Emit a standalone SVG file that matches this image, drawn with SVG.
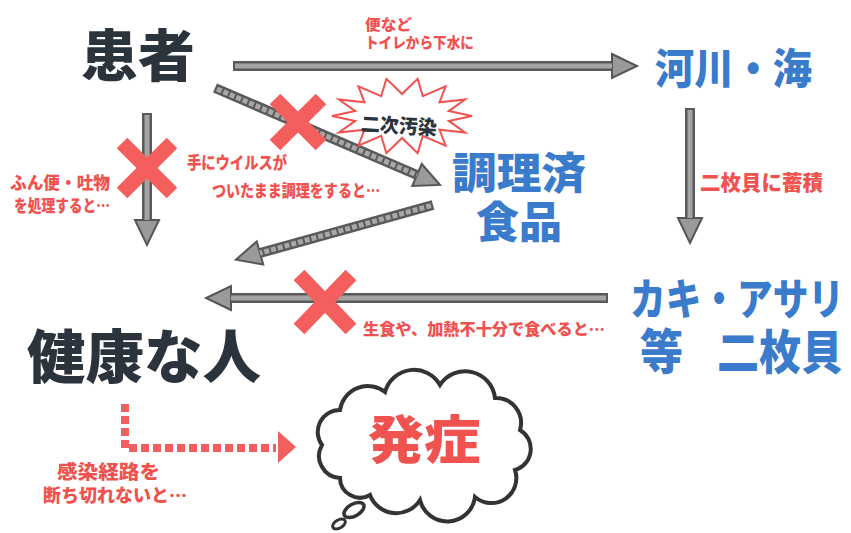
<svg xmlns="http://www.w3.org/2000/svg" width="851" height="533" viewBox="0 0 851 533">
<defs>
<style>
.big{font-family:"Noto Sans CJK JP","Noto Sans CJK SC",sans-serif;font-weight:900}
.dark{fill:#2b333d}
.blue{fill:#3a7bcb}
.red{fill:#f0524f;font-family:"Noto Sans CJK JP","Noto Sans CJK SC",sans-serif;font-weight:900}
.shaft{fill:none;stroke:#5a5a5a;stroke-width:10}
.core{fill:none;stroke:#a4a4a4;stroke-width:5}
.coreD{fill:none;stroke:#a8a8a8;stroke-width:5;stroke-dasharray:5 2}
.cross{stroke:#f45f5e;stroke-width:15}
</style>
<marker id="ah" markerUnits="userSpaceOnUse" viewBox="-2 -14 30 28" markerWidth="30" markerHeight="28" refX="0" refY="0" orient="auto" overflow="visible">
<path d="M0,-12 L25,0 L0,12 Z" fill="#9a9a9a" stroke="#555" stroke-width="2"/>
</marker>
</defs>
<rect width="851" height="533" fill="#fff"/>

<g id="connectors">
<path class="shaft" d="M233,66 H612" marker-end="url(#ah)"/>
<path class="core" d="M235,66 H612"/>
<path class="shaft" d="M147,113 V220" marker-end="url(#ah)"/>
<path class="core" d="M147,115 V220"/>
<path class="shaft" d="M690,108 V218" marker-end="url(#ah)"/>
<path class="core" d="M690,110 V218"/>
<path class="shaft" d="M215,88 L417,175" marker-end="url(#ah)"/>
<path class="coreD" d="M217,89 L417,175"/>
<path class="shaft" d="M433,205 L260,253" marker-end="url(#ah)"/>
<path class="coreD" d="M431,205.6 L260,253"/>
<path class="shaft" d="M608,298 H231" marker-end="url(#ah)"/>
<path class="core" d="M606,298 H231"/>
<path d="M125,404 V448 H276" fill="none" stroke="#f0605f" stroke-width="8" stroke-dasharray="8 4"/>
<polygon points="278,431 296,447 278,463" fill="#f0605f"/>
</g>

<g id="crosses">
<path class="cross" d="M122,143 L172,193 M172,143 L122,193"/>
<path class="cross" d="M275,99 L321,145 M321,99 L275,145"/>
<path class="cross" d="M299,275 L351,329 M351,275 L299,329"/>
</g>

<g id="burst">
<polygon points="472,116 448.8,120.9 465.1,132.5 439.5,129.7 445.6,145.7 422.8,135.8 417.6,153.1 402,138 386.4,153.1 381.2,135.8 358.4,145.7 364.5,129.7 338.9,132.5 355.2,120.9 332,116 355.2,111.1 338.9,99.5 364.5,102.3 358.4,86.3 381.2,96.2 386.4,78.9 402,94 417.6,78.9 422.8,96.2 445.6,86.3 439.5,102.3 465.1,99.5 448.8,111.1" fill="#fff" stroke="#f0524f" stroke-width="2"/>
<text class="big dark" x="399" y="133" font-size="20" text-anchor="middle" textLength="76" lengthAdjust="spacingAndGlyphs" transform="rotate(3 399 125)">二次汚染</text>
</g>

<g id="patient"><text class="big dark" x="81" y="76" font-size="56" textLength="114" lengthAdjust="spacingAndGlyphs">患者</text></g>
<g id="label-top">
<text class="red" x="365" y="30" font-size="15" textLength="47" lengthAdjust="spacingAndGlyphs">便など</text>
<text class="red" x="365" y="48" font-size="15" textLength="109" lengthAdjust="spacingAndGlyphs">トイレから下水に</text>
</g>
<g id="river"><text class="big blue" x="655" y="84" font-size="42" textLength="157" lengthAdjust="spacingAndGlyphs">河川・海</text></g>
<g id="label-accum"><text class="red" x="700" y="190" font-size="21" textLength="123" lengthAdjust="spacingAndGlyphs">二枚貝に蓄積</text></g>
<g id="cooked">
<text class="big blue" x="519" y="189" font-size="43" text-anchor="middle" textLength="134" lengthAdjust="spacingAndGlyphs">調理済</text>
<text class="big blue" x="519" y="238" font-size="43" text-anchor="middle" textLength="86" lengthAdjust="spacingAndGlyphs">食品</text>
</g>
<g id="label-vomit">
<text class="red" x="10" y="189" font-size="17" textLength="100" lengthAdjust="spacingAndGlyphs">ふん便・吐物</text>
<text class="red" x="14" y="212" font-size="17" textLength="96" lengthAdjust="spacingAndGlyphs">を処理すると…</text>
</g>
<g id="label-hands">
<text class="red" x="187" y="169" font-size="17" textLength="100" lengthAdjust="spacingAndGlyphs">手にウイルスが</text>
<text class="red" x="212" y="197" font-size="17" textLength="168" lengthAdjust="spacingAndGlyphs">ついたまま調理をすると…</text>
</g>
<g id="shellfish">
<text class="big blue" x="0" y="0" font-size="36" textLength="214" lengthAdjust="spacingAndGlyphs" transform="translate(630 315) scale(1 1.2)">カキ・アサリ</text>
<text class="big blue" x="0" y="0" font-size="43" transform="translate(640 369) scale(1 1.1)">等</text>
<text class="big blue" x="0" y="0" font-size="42" textLength="126" lengthAdjust="spacingAndGlyphs" transform="translate(717 369) scale(1 1.12)">二枚貝</text>
</g>
<g id="label-raw"><text class="red" x="363" y="335" font-size="16" textLength="242" lengthAdjust="spacingAndGlyphs">生食や、加熱不十分で食べると…</text></g>
<g id="healthy"><text class="big dark" x="27" y="378" font-size="58" textLength="234" lengthAdjust="spacingAndGlyphs">健康な人</text></g>
<g id="label-route">
<text class="red" x="57" y="479" font-size="19" textLength="103" lengthAdjust="spacingAndGlyphs">感染経路を</text>
<text class="red" x="43" y="502" font-size="18" textLength="144" lengthAdjust="spacingAndGlyphs">断ち切れないと…</text>
</g>
<g id="onset">
<path d="M340,478 A22,22 0 0 1 322,445 A22,22 0 0 1 340,410 A28,28 0 0 1 385,392 A30,30 0 0 1 440,385 A30,30 0 0 1 495,398 A25,25 0 0 1 520,430 A22,22 0 0 1 515,470 A25,25 0 0 1 475,497 A28,28 0 0 1 420,500 A28,28 0 0 1 370,495 A20,20 0 0 1 340,478 Z" fill="#fff" stroke="#333" stroke-width="4"/>
<ellipse cx="354" cy="510" rx="11" ry="6" transform="rotate(-30 354 510)" fill="#fff" stroke="#333" stroke-width="3.5"/>
<ellipse cx="339" cy="524" rx="7" ry="4" transform="rotate(-30 339 524)" fill="#fff" stroke="#333" stroke-width="3"/>
<text class="red" x="424" y="459" font-size="52" text-anchor="middle" textLength="113" lengthAdjust="spacingAndGlyphs">発症</text>
</g>
</svg>
